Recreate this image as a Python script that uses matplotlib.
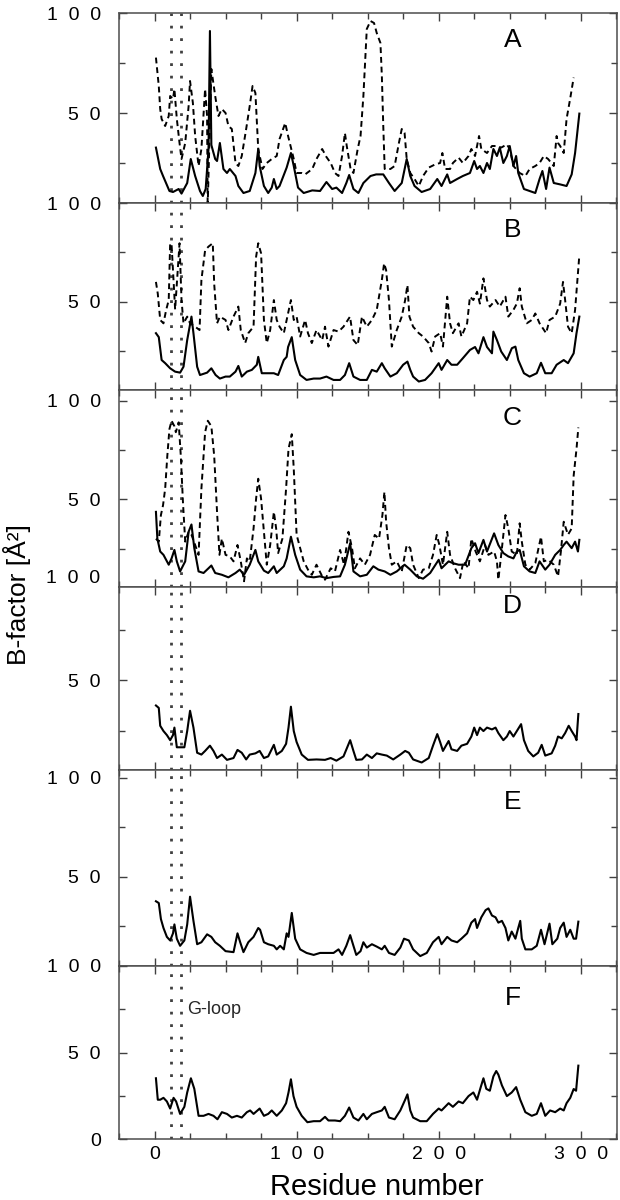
import matplotlib
matplotlib.use("Agg")
import matplotlib.pyplot as plt
from matplotlib.ticker import MultipleLocator

plt.rcParams['font.family'] = ['Liberation Sans', 'DejaVu Sans']

# ---- data (residue number, B-factor) ----
A_solid_res = [1, 4, 6, 10.5, 13, 17, 19, 23, 25.5, 28.6,
               32, 34, 36, 38, 39, 40, 42.7, 44, 46, 48.5,
               51, 53, 57, 59, 62.6, 67, 71, 73, 74, 77,
               80, 82.5, 84, 86, 88, 93, 96, 98, 101, 105,
               111, 116.5, 121, 125, 128, 132, 135, 137, 140, 143.5,
               147, 152, 156, 161, 165, 169, 174, 177.5, 180, 183,
               188, 194, 199, 202, 206, 208, 213, 217, 222, 225,
               227, 229, 231.5, 234, 236, 238.5, 241, 243, 245.5, 248,
               250, 252.6, 254.5, 256, 260, 264, 268, 271, 273, 275.6,
               278, 281, 285.5, 290, 293.6, 296, 299]
A_solid_val = [32.7, 22, 18.5, 11, 10.5, 12, 9.7, 15, 27, 18.5,
               11, 8.5, 12, 32, 91, 34, 27, 26, 35, 22,
               20, 22, 18.5, 13.5, 10, 11, 20, 32, 23.5, 13.5,
               10, 12.7, 17, 12, 13.5, 22.7, 30, 23.5, 12.7, 10,
               11.3, 11, 15.5, 12, 12.7, 10, 15, 19, 12, 10,
               15, 18.5, 19.3, 19.3, 15, 11, 15, 27, 18.5, 13.5,
               10.5, 12, 17, 13.5, 19.3, 15, 17, 18.5, 20, 26,
               22, 23.5, 20, 25, 22, 32, 28.5, 32.7, 25, 28.5,
               33.5, 23.5, 28.5, 20, 12, 11, 10, 17, 21, 12,
               22.7, 15, 14.3, 13.5, 19.3, 30, 49.7]

A_dash_res = [1, 3, 4, 5, 7.5, 10, 11, 13, 14, 15.7,
              17.6, 19, 21.6, 24, 25, 27, 28.6, 31, 33, 35.6,
              37, 37.4, 40, 42.7, 45, 47.4, 50, 52, 54.4, 57,
              59, 61.4, 64.5, 67, 69, 71, 73, 76, 79, 82.5,
              86, 88, 92, 94, 98, 100, 103.6, 106, 111, 114,
              118, 121, 124, 127, 129.5, 132, 134, 135.3, 138, 140,
              143, 145, 147, 149.4, 152, 154.5, 156.4, 159, 160, 161,
              162, 166, 169, 172, 174, 176, 177.5, 180, 183, 186,
              189, 193, 197.5, 201, 202.6, 204.5, 208, 210, 214, 217,
              221, 223, 225.6, 228.4, 230, 234, 237.5, 241, 244, 248,
              250, 252.6, 257, 261, 264, 268, 271, 274, 277, 281,
              283, 284, 285.5, 288, 290, 292.5, 295]
A_dash_val = [77.7, 63.5, 52, 47, 43.5, 48.5, 58.5, 57, 62, 47,
              35, 27, 35, 53.5, 66, 55, 38.5, 23.5, 32, 62,
              48.5, 3, 72, 58.5, 48.5, 52, 50, 43.5, 42, 25,
              23.5, 28.5, 42, 53.5, 63.5, 60, 32, 22, 25, 27,
              28.5, 37, 45, 38.5, 27, 20, 20, 19.3, 22, 27,
              32, 28, 25, 20, 18.5, 28.5, 40, 33.5, 22, 20,
              32, 38.5, 58.5, 92, 96, 95, 90, 85, 68.5, 43.5,
              22, 22, 23.5, 35, 42, 40, 27, 20, 17, 13.5,
              18.5, 22.7, 24.3, 25, 30, 22, 22, 25, 27.7, 25,
              28.5, 32, 28.5, 38.5, 32, 30, 33.5, 33.5, 32.7, 34.3,
              32, 23.5, 20, 18.5, 22, 23.5, 25, 28.5, 27, 23.5,
              38.5, 35, 33.5, 30, 47, 57, 67.7]

B_solid_res = [1, 3, 5, 7.5, 11, 14.5, 18, 20.4, 23, 26,
               27.4, 30, 32, 37, 40, 43, 46, 50, 53, 57,
               59, 61.4, 65, 68.5, 72, 73, 75.5, 79, 84, 87,
               91, 93, 94, 96.6, 99, 102.5, 107, 112, 116.5, 121,
               126, 130.6, 134, 137, 140, 144.7, 149.4, 153, 156.4, 160,
               162, 166, 170.5, 175, 178, 180, 182, 186, 190.4, 195,
               200, 202, 206, 209, 213, 217, 222, 225.6, 228, 231.5,
               234, 237.5, 238.5, 241, 244, 248, 251.5, 254, 256, 260,
               264, 269, 272, 275, 279.5, 283, 288, 291, 295, 297,
               299]
B_solid_val = [34, 32, 20.4, 18.8, 16.2, 14.5, 14, 17, 30.5, 42.4,
               34, 17, 12.8, 14, 16.2, 12.8, 11, 12, 12, 14.5,
               17.4, 12, 14.5, 15.4, 18, 22, 13.7, 13.7, 13.7, 12.8,
               20.4, 22, 27, 32, 20.4, 12.8, 10.3, 11, 11, 12,
               10.3, 10.3, 12.8, 18.8, 12, 10.3, 10.3, 15.4, 14.5, 18.8,
               16.2, 12, 13.7, 18, 19.6, 15.4, 12, 9.5, 10.3, 13.7,
               18.8, 15.4, 20.4, 18, 18, 21.3, 25.5, 27, 23.8, 32,
               27, 23.8, 34.8, 30.5, 24.7, 20.4, 26.4, 27.2, 20.4, 13.7,
               12, 13.7, 19, 13.7, 13.7, 18, 20.4, 18.8, 23.8, 34,
               42.4]

B_dash_res = [1, 2.3, 4, 6.3, 8.2, 10, 11, 12, 14.5, 17.6,
              19, 20.4, 23, 25, 28.6, 31.7, 33, 35.6, 38, 41,
              42, 44, 46, 50, 52, 55.6, 59, 60.7, 63.8, 66,
              69.7, 71.5, 73, 75, 77, 79, 81.4, 84, 86, 88,
              91, 93, 96, 98, 100, 102.5, 106, 108, 110.7, 114,
              118, 120, 122.4, 126, 129.5, 133, 137.6, 140, 143, 146,
              149.4, 153, 156.4, 160, 161.6, 163, 165, 167, 170.5, 174,
              176.4, 178, 179.4, 182, 186, 189, 193, 195, 197.5, 201,
              203, 206, 208, 210, 214, 216, 220, 222, 224.4, 227,
              229, 231.5, 234, 236, 240, 243, 247, 249, 252.6, 255,
              257, 258.5, 262, 265.5, 268, 271, 275.6, 278, 282, 285.5,
              287.5, 289, 291, 293.6, 296, 299]
B_dash_val = [60, 54, 40.7, 39, 45.8, 50.8, 79.6, 79, 46, 79.6,
              50.8, 39, 42.4, 39, 37.3, 35.6, 61, 76, 77.9, 79.6,
              59, 39, 42.4, 40.7, 35.6, 42.4, 47.5, 35.6, 29, 34,
              37.3, 72.8, 79.6, 74.5, 40.7, 29, 35.6, 50.8, 40.7, 37.3,
              34, 40.7, 50.8, 40.7, 42.4, 32.3, 40.7, 34, 29, 35.6,
              30.5, 37.3, 27.2, 35.6, 34.8, 37.3, 42.4, 30.5, 28, 42.4,
              37.3, 40.7, 45.8, 61, 69.4, 66, 50.8, 27.2, 35.6, 42.4,
              50.8, 58.4, 42.4, 37.3, 34, 32.3, 29, 24.7, 32.3, 34,
              27.2, 52.5, 39, 34, 39, 32.3, 39, 52.5, 50.8, 55,
              49, 61.8, 50.8, 47.5, 50.8, 47.5, 52.5, 42.4, 45.8, 49,
              56.8, 47.5, 39, 40.7, 44, 39, 34, 40.7, 42.4, 49,
              60, 50.8, 37.3, 34, 45.8, 73.6]

C_solid_res = [1, 2, 4, 6.3, 10, 12, 14, 15.7, 18, 21.6,
               24, 26, 28, 31, 34.5, 38, 40, 42.7, 47.4, 52,
               57, 60, 63, 67, 71, 73, 77, 80, 84, 86,
               91, 93, 96, 99, 102.5, 107, 112, 116.5, 121, 126,
               130.6, 134, 137.7, 140, 144.7, 149.4, 154, 157.6, 162, 166,
               170.5, 176, 180, 184.6, 189, 194, 200, 202, 207, 210,
               214, 218.6, 223, 225.6, 228, 231.5, 234, 239, 242, 245.5,
               249, 252.6, 255, 257, 260, 264, 268, 271, 275, 278,
               282, 285.5, 288, 290, 293.6, 296, 298, 299]
C_solid_val = [43.6, 30, 23.5, 21.8, 16.8, 20, 24.3, 18.5, 13.4, 18.5,
               33.5, 37.2, 25.2, 13.4, 12.6, 15, 16.4, 12.6, 11.7, 10.4,
               12.6, 14.3, 11.7, 16.8, 24.3, 18.5, 13.8, 12.6, 16, 12.6,
               16, 20, 31, 21.8, 14.3, 10.9, 10.4, 10.9, 10, 10.6,
               10.9, 16.8, 27.7, 13.4, 10.9, 11.7, 16, 14.3, 13.4, 11.7,
               13.4, 16.8, 14.3, 10.9, 9.7, 12.6, 19.3, 15, 18.5, 17.6,
               16.8, 16.8, 25.2, 27.7, 22.7, 29.4, 23.5, 32.7, 26.8, 22.7,
               21, 20, 23.5, 24.3, 16, 13.4, 12.6, 18.5, 14.3, 16.8,
               21.8, 24.3, 26.8, 28.5, 25.2, 28.5, 23.5, 29.4]

C_dash_res = [1, 3, 4.5, 6, 7.5, 9, 10.5, 12, 14, 15,
              17, 18.5, 20, 21.6, 24, 26, 28.6, 31, 33, 35.6,
              37.5, 40, 42, 44, 45.7, 47.4, 50, 53, 55.6, 58.4,
              60.7, 63, 65, 67, 69.7, 71.5, 73, 75, 77, 79,
              81.4, 84, 85.6, 87, 90, 92.6, 94.3, 96.6, 98, 100,
              102.5, 105, 108, 110.7, 114, 118, 120, 124, 127, 130.6,
              133.4, 136.5, 139, 141, 144.7, 148, 151.7, 155, 158, 160.4,
              161.8, 163, 165, 167, 170.5, 174, 177.5, 180, 182, 186,
              189, 193, 196, 198.6, 200.5, 203, 206, 208, 211.5, 215,
              217.4, 221, 223, 226, 229, 232.6, 235, 239, 241, 242,
              244, 247, 249, 251.4, 255, 257, 258.5, 261, 264, 268,
              272, 274, 277, 281, 284, 286, 288, 291, 293.6, 295,
              297, 298.3]
C_dash_val = [30, 28.5, 42, 47, 55.4, 72, 85.6, 89.8, 87, 84,
              89, 72, 48.7, 28.5, 33.5, 32, 26.8, 21.8, 55.4, 84,
              89.8, 87, 72, 43.6, 21.8, 30, 21.8, 21, 18.5, 26.8,
              18.5, 8.4, 20, 18.5, 35.2, 50.3, 60.4, 50.3, 33.5, 16.8,
              26.8, 43.6, 35.2, 22.7, 30, 55.4, 75.5, 83, 65.4, 32,
              25.2, 18.5, 14.3, 11.7, 16.8, 10.9, 9.2, 15, 13.4, 24.3,
              16.8, 33.5, 25.2, 15, 20, 16.8, 21.8, 31.9, 30, 42,
              53.7, 38.6, 25.2, 16.8, 18.5, 13.4, 26.8, 25.2, 16.8, 10,
              14.3, 15, 21.8, 31.9, 26.8, 16.8, 33.5, 21.8, 15, 10,
              18.5, 15, 30, 23.5, 18.5, 26.8, 21.8, 23.5, 18.5, 9.2,
              21.8, 42, 35.2, 23.5, 21.8, 37.8, 28.5, 16.8, 14.3, 17.6,
              31, 18.5, 19.3, 16.8, 10.9, 23.5, 38.6, 32, 35.2, 62,
              75.5, 86.4]

D_solid_res = [1, 3, 4, 6.3, 8.7, 11, 13, 14, 15.7, 18,
               21, 23, 25, 27.4, 30, 33, 35.6, 39, 41.5, 44,
               47.4, 51, 55.6, 58.4, 61.4, 64.5, 67, 71, 74, 77,
               80, 84, 86, 89.6, 92.6, 94.3, 96, 98, 100, 103.6,
               108, 114, 120, 124, 128, 133, 137.7, 140, 142, 146,
               149.4, 153, 156.4, 160, 163.5, 168, 173, 176.4, 179, 182,
               188, 193, 196, 199, 201, 203, 207, 209, 213, 216,
               220, 223, 225, 227, 229, 231.5, 234, 237.5, 240, 242,
               245.5, 248, 250, 252.6, 255, 258, 260, 263, 266.6, 270,
               272.5, 275, 279.5, 282, 284, 286.6, 289, 291.5, 293.6, 296,
               297, 298.3]
D_solid_val = [37.6, 36.4, 27.6, 25, 23, 20.5, 23, 26.7, 17, 17,
               17, 25, 35, 26.7, 14.3, 13.4, 15.2, 17.8, 15.2, 11.7,
               13.4, 10.8, 11.7, 15.7, 14.3, 11, 13.4, 14, 15.2, 11.7,
               12.5, 18.2, 13.4, 15.2, 18.7, 26.7, 37, 25, 19.6, 13.4,
               10.8, 11, 10.8, 11.7, 10.4, 12.5, 20.5, 15.2, 10.8, 11,
               13.4, 11.7, 14, 13.4, 12.9, 11, 13.4, 15.2, 14.3, 11,
               9.5, 11.7, 17.8, 23.5, 19.6, 15.2, 20.1, 16, 15.2, 17.8,
               18.7, 22.3, 26.7, 23, 26.7, 25, 26.7, 25.8, 26.7, 24,
               20.5, 22.3, 25, 22.3, 25, 28.4, 20.5, 15.2, 12.5, 14.3,
               18.2, 12.9, 14, 17.8, 22.3, 21.4, 24, 27.6, 25, 22.3,
               20.5, 33.4]

E_solid_res = [1, 3, 4.5, 6.3, 8.7, 11, 13, 14, 15.7, 18,
               21, 23, 25, 27.4, 30, 33, 37, 40, 42.7, 46,
               50, 55.6, 58.4, 60.3, 62.6, 66, 69.7, 73, 74.3, 77,
               80, 84, 86, 88.4, 91, 93, 94.3, 96.6, 99, 102.5,
               107, 112, 116.5, 121, 126, 129.5, 132, 135, 137.7, 140,
               142, 145, 147, 149.4, 153, 156.4, 160, 162, 165, 169,
               173, 175.6, 179, 182, 187, 191.6, 196, 200, 202, 206,
               209, 213, 216, 220, 223, 225.6, 227, 230, 233, 235,
               237.5, 240, 242, 244.5, 247, 249, 251.4, 254, 256, 257.4,
               258.5, 261, 265.5, 269, 272, 274.5, 278, 280, 283.5, 285.5,
               288, 290, 292.6, 295, 296.7, 298.3]
E_solid_val = [37.7, 36.8, 28.7, 24.2, 19.7, 17.9, 21.5, 26, 18.8, 15.2,
               17.9, 26, 40, 27.8, 16, 17, 21, 19.7, 17, 15.2,
               12.5, 12, 21.5, 17, 12, 17, 19.7, 24.2, 23.3, 17,
               16, 15.2, 13.4, 15.2, 13.4, 21.5, 19.7, 31.8, 18.8, 13.4,
               11.6, 10.6, 11.6, 11.6, 11.6, 13.4, 10.6, 15.2, 20.6, 15.2,
               10.6, 12.5, 17, 14.3, 16, 14.8, 13.4, 15.2, 11.6, 10.6,
               14.3, 18.8, 17.9, 13.4, 10, 11.6, 17, 19.7, 16, 19.7,
               17.9, 17, 18.8, 21.5, 26.9, 28.7, 24.2, 29.6, 33.2, 34.1,
               30.5, 29.6, 26.9, 27.8, 24.2, 17.9, 22.4, 18.8, 24.2, 27.8,
               18.8, 13.4, 13.4, 15.2, 23.3, 16, 26.4, 16, 18.8, 24.2,
               26.9, 19.7, 23.3, 18.8, 18.8, 27.4]

F_solid_res = [1, 2.3, 4, 6.3, 8.7, 11, 13.4, 15.2, 18, 21,
               23, 25.6, 28, 31, 34.5, 38, 41.5, 44.3, 47.4, 51,
               54.4, 58, 61.4, 65, 67.3, 69.7, 74, 77, 80, 82.5,
               86, 89.6, 92.6, 94.3, 96, 97.8, 100, 103.6, 107.6, 112,
               116.5, 120, 122.4, 127, 130.6, 134, 137, 140, 143.5, 147,
               149.4, 153, 156.4, 160, 162, 165, 169, 173, 176.4, 178,
               180, 182, 187, 191.6, 196, 200, 202, 207, 210, 214,
               217, 221, 224.4, 227, 229.6, 231.5, 233.5, 236, 238.5, 240.5,
               242, 244.5, 248, 251.4, 254.5, 257.4, 261, 265.5, 269, 272,
               275, 278.4, 282, 285.5, 288, 290, 292.6, 295, 296.7, 298.3]
F_solid_val = [35.1, 22.7, 22.7, 23.8, 21.7, 17.6, 23.8, 21.7, 14.5, 18.6,
               26.9, 35.1, 29, 13.4, 13.4, 14.5, 13.4, 11.4, 15.5, 14.5,
               12.4, 13.4, 12.4, 15.5, 16.5, 14.5, 17.6, 13.4, 14.5, 16.5,
               13.4, 16.5, 20.7, 26.9, 34.5, 24.8, 18.6, 13.4, 9.7, 10.3,
               10.3, 12.8, 10.7, 10.7, 10.3, 13.4, 18.2, 12.4, 10.7, 14.5,
               11.4, 14.5, 15.5, 16.5, 18.6, 12.4, 11.4, 16.5, 22.7, 25.8,
               16.5, 12.4, 10.3, 10.3, 14.5, 17.6, 16.5, 20.7, 18.6, 21.7,
               20.7, 24.8, 26.9, 22.7, 30, 35.1, 29, 27.9, 36.2, 39.3,
               37.2, 31, 24.8, 26.9, 30, 22.7, 15.5, 13.4, 14.5, 20.7,
               13.4, 16.5, 15.5, 17.6, 16.5, 20.7, 23.8, 28.9, 27.9, 42.4]

panel_labels = ["A", "B", "C", "D", "E", "F"]
gloop_res = [11.3, 18.3]
x_ticks = [0, 100, 200, 300]
x_tick_labels = ["0", "1  0  0", "2  0  0", "3  0  0"]

# ---- layout (pixel rows of each panel in the 620x1200 figure) ----
W, H = 620, 1200
LEFT, RIGHT = 119, 617
panel_rows = [(13, 203), (203, 390), (390, 587), (587, 770), (770, 966), (966, 1139)]
panel_ylims = [(5, 100), (5.2, 100), (5.5, 105.4), (5.8, 96), (5, 104), (0, 100)]
letter_rows = [40, 230, 418, 606, 802, 998]

solid = [(A_solid_res, A_solid_val), (B_solid_res, B_solid_val), (C_solid_res, C_solid_val),
         (D_solid_res, D_solid_val), (E_solid_res, E_solid_val), (F_solid_res, F_solid_val)]
dashed = [(A_dash_res, A_dash_val), (B_dash_res, B_dash_val), (C_dash_res, C_dash_val),
          None, None, None]

fig = plt.figure(figsize=(W / 100, H / 100), dpi=100)
axes = []
for i, (top, bot) in enumerate(panel_rows):
    ax = fig.add_axes([LEFT / W, 1 - bot / H, (RIGHT - LEFT) / W, (bot - top) / H])
    axes.append(ax)
    lo, hi = panel_ylims[i]

    ax.plot(*solid[i], color='black', lw=1.5, zorder=3)
    if dashed[i] is not None:
        ax.plot(*dashed[i], color='black', lw=1.4, ls=(0, (3, 2)), zorder=3)
    for g in gloop_res:
        ax.axvline(g, color='0.25', lw=2, ls=(0, (1, 3.5)), zorder=2)

    ax.set_xlim(-25, 325.5)
    ax.set_ylim(lo, hi)

    ax.set_xticks(x_ticks)
    ax.xaxis.set_minor_locator(MultipleLocator(25))
    if i == 5:
        ax.set_xticklabels(x_tick_labels)
        ax.set_yticks([0, 50, 100], labels=["0", "5  0", "1  0  0"])
    elif i == 3:
        # the 100 of panel D sits just above its frame
        ax.set_xticklabels([])
        ax.set_yticks([50], labels=["5  0"])
        ax.text(-0.038, 100, "1  0  0", transform=ax.get_yaxis_transform(),
                ha='right', va='center', fontsize=14, clip_on=False)
    else:
        ax.set_xticklabels([])
        ax.set_yticks([50, 100], labels=["5  0", "1  0  0"])
    ax.set_yticks([25, 75], minor=True)

    ax.tick_params(which='both', direction='in', top=True, right=True,
                   width=1, color='0.25', labelsize=14)
    ax.tick_params(which='major', length=6)
    ax.tick_params(which='minor', length=4)
    ax.tick_params(axis='y', pad=13)
    ax.tick_params(axis='x', pad=5)
    for s in ax.spines.values():
        s.set_linewidth(1.1)
        s.set_color('0.3')

    frac = (bot - letter_rows[i]) / (bot - top)
    ax.text(252, lo + frac * (hi - lo), panel_labels[i], fontsize=19,
            ha='center', va='center')

axes[5].text(23, 75, "G-loop", fontsize=13, ha='left', va='center', color='0.15')

fig.text(17 / W, 1 - 595 / H, "B-factor [Å²]", rotation=90, fontsize=19,
         ha='center', va='center')
fig.text(377 / W, 1 - 1187 / H, "Residue number", fontsize=21,
         ha='center', va='center')

fig.savefig("out.png", dpi=100)
